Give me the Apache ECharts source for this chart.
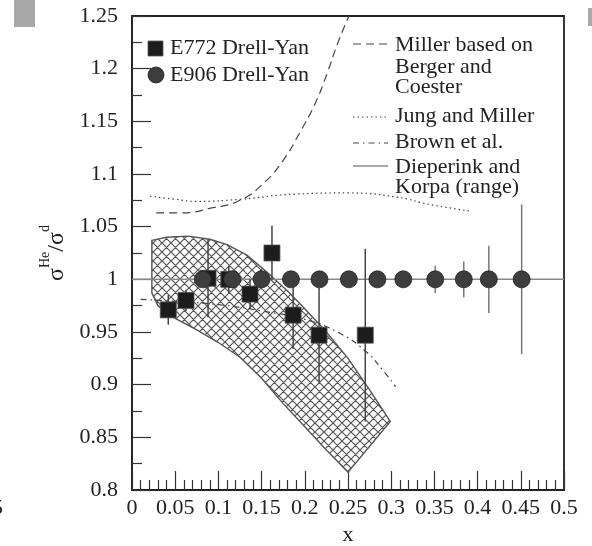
<!DOCTYPE html>
<html>
<head>
<meta charset="utf-8">
<script src="https://cdn.jsdelivr.net/npm/echarts@6/dist/echarts.min.js"></script>
<style>
	html, body { margin: 0; padding: 0; background: #fff; }
	#chart { width: 592px; height: 546px; }
</style>
</head>
<body>
<div id="chart"></div>
<script>
// E772 Drell-Yan (squares)
const e772X = [0.042, 0.0625, 0.088, 0.112, 0.1366, 0.162, 0.1865, 0.2165, 0.27];
const e772Y = [0.971, 0.980, 1.001, 1.000, 0.986, 1.025, 0.966, 0.947, 0.947];
const e772Err = [0.014, 0.010, 0.037, 0.013, 0.014, 0.026, 0.032, 0.045, 0.082];

// E906 Drell-Yan (circles)
const e906X = [0.082, 0.116, 0.150, 0.184, 0.217, 0.251, 0.284, 0.314, 0.351, 0.384, 0.413, 0.451];
const e906Y = [1, 1, 1, 1, 1, 1, 1, 1, 1, 1, 1, 1];
const e906Err = [0.006, 0.006, 0.005, 0.005, 0.005, 0.005, 0.006, 0.006, 0.013, 0.017, 0.032, 0.071];

// Miller based on Berger and Coester
const millerX = [0.028, 0.055, 0.094, 0.125, 0.152, 0.175, 0.194, 0.212, 0.226, 0.238, 0.251];
const millerY = [1.063, 1.063, 1.068, 1.075, 1.091, 1.113, 1.139, 1.167, 1.196, 1.224, 1.25];

// Jung and Miller
const jungX = [0.021, 0.05, 0.075, 0.125, 0.19, 0.25, 0.307, 0.345, 0.39];
const jungY = [1.079, 1.076, 1.074, 1.076, 1.081, 1.082, 1.078, 1.071, 1.065];

// Brown et al.
const brownX = [0.01, 0.05, 0.1, 0.15, 0.2, 0.24, 0.27, 0.29, 0.305];
const brownY = [0.981, 0.979, 0.976, 0.970, 0.962, 0.949, 0.932, 0.914, 0.898];

// Dieperink and Korpa (range)
const bandUpX = [0.023, 0.04, 0.065, 0.09, 0.11, 0.133, 0.156, 0.18, 0.2, 0.225, 0.25, 0.275, 0.299];
const bandUpY = [1.037, 1.040, 1.041, 1.038, 1.033, 1.023, 1.007, 0.989, 0.972, 0.950, 0.925, 0.895, 0.865];
const bandLoX = [0.023, 0.03, 0.05, 0.075, 0.1, 0.125, 0.15, 0.175, 0.2, 0.225, 0.25];
const bandLoY = [0.987, 0.975, 0.963, 0.952, 0.94, 0.926, 0.906, 0.882, 0.860, 0.838, 0.817];

// unity line
const unityX = [0, 0.5];
const unityY = [1, 1];

const FONT = "'Liberation Serif', 'DejaVu Serif', serif";

// cross hatch tile
const hatch = document.createElement("canvas");
hatch.width = 9;
hatch.height = 9;
const hctx = hatch.getContext("2d");
hctx.strokeStyle = "#555";
hctx.lineWidth = 1.2;
hctx.beginPath();
for (let k = -9; k <= 9; k += 9) {
	hctx.moveTo(-2, -2 + k);
	hctx.lineTo(11, 11 + k);
	hctx.moveTo(11, -2 + k);
	hctx.lineTo(-2, 11 + k);
}
hctx.stroke();

const zip = (xs, ys) => xs.map((x, i) => [x, ys[i]]);

function errorBars(xs, ys, errs, color) {
	return {
		type: "custom",
		data: xs.map((x, i) => [x, ys[i], errs[i]]),
		encode: { x: 0, y: 1 },
		z: 4,
		silent: true,
		renderItem: (params, api) => {
			const top = api.coord([api.value(0), api.value(1) + api.value(2)]);
			const bot = api.coord([api.value(0), api.value(1) - api.value(2)]);
			return {
				type: "line",
				shape: { x1: top[0], y1: top[1], x2: bot[0], y2: bot[1] },
				style: { stroke: color, lineWidth: 1.5 },
			};
		},
	};
}

function curve(xs, ys, dash) {
	return {
		type: "line",
		data: zip(xs, ys),
		smooth: true,
		showSymbol: false,
		silent: true,
		z: 3,
		lineStyle: { color: "#444", width: 1.2, type: dash },
	};
}

const legendLine = (y, dash, color) => ({
	type: "line",
	shape: { x1: 353, y1: y, x2: 388, y2: y },
	style: { stroke: color || "#444", lineWidth: 1.2, lineDash: dash },
});
const legendText = (x, y, text) => ({
	type: "text",
	x: x,
	y: y,
	style: { text: text, font: "22px " + FONT, fill: "#222", verticalAlign: "middle" },
});

const option = {
	backgroundColor: "#fff",
	animation: false,
	grid: {
		left: 132,
		right: 28,
		top: 16,
		bottom: 56,
		outerBoundsMode: "none",
		show: true,
		borderColor: "#222",
		borderWidth: 1.8,
	},
	xAxis: {
		type: "value",
		min: 0,
		max: 0.5,
		interval: 0.05,
		name: "x",
		nameLocation: "middle",
		nameGap: 32,
		nameTextStyle: { fontFamily: FONT, fontSize: 22, color: "#222" },
		axisLine: { lineStyle: { color: "#222", width: 1.5 } },
		axisTick: { inside: true, length: 19, lineStyle: { color: "#333", width: 1.2 } },
		minorTick: { show: true, splitNumber: 5, length: 10, lineStyle: { color: "#333", width: 1.2 } },
		splitLine: { show: false },
		axisLabel: { fontFamily: FONT, fontSize: 22, color: "#222", margin: 7 },
	},
	yAxis: {
		type: "value",
		min: 0.8,
		max: 1.25,
		interval: 0.05,
		name: "{s|σ}{u|He}{s|/σ}{u|d}",
		nameLocation: "middle",
		nameRotate: 90,
		nameGap: 57,
		nameTextStyle: {
			fontFamily: FONT,
			color: "#222",
			rich: {
				s: { fontFamily: FONT, fontSize: 24, color: "#222", lineHeight: 30, verticalAlign: "bottom" },
				u: { fontFamily: FONT, fontSize: 14, color: "#222", lineHeight: 30, verticalAlign: "top" },
			},
		},
		axisLine: { lineStyle: { color: "#222", width: 1.5 } },
		axisTick: { inside: true, length: 19, lineStyle: { color: "#333", width: 1.2 } },
		minorTick: { show: true, splitNumber: 2, length: 10, lineStyle: { color: "#333", width: 1.2 } },
		splitLine: { show: false },
		axisLabel: { fontFamily: FONT, fontSize: 22, color: "#222", margin: 14 },
	},
	series: [
		{
			type: "custom",
			data: [0],
			z: 1,
			silent: true,
			renderItem: (params, api) => {
				const pts = zip(bandUpX, bandUpY)
					.concat(zip(bandLoX, bandLoY).reverse())
					.map(p => api.coord(p));
				return {
					type: "polygon",
					shape: { points: pts },
					style: { fill: { image: hatch, repeat: "repeat" }, stroke: "#555", lineWidth: 1.4 },
				};
			},
		},
		{
			type: "line",
			data: zip(unityX, unityY),
			showSymbol: false,
			silent: true,
			z: 2,
			lineStyle: { color: "#888", width: 1.5 },
		},
		curve(millerX, millerY, [8, 5]),
		curve(jungX, jungY, [1.5, 3]),
		curve(brownX, brownY, [6, 4, 1.5, 4]),
		errorBars(e772X, e772Y, e772Err, "#444"),
		errorBars(e906X, e906Y, e906Err, "#777"),
		{
			type: "scatter",
			data: zip(e772X, e772Y),
			symbol: "rect",
			symbolSize: 16,
			z: 5,
			itemStyle: { color: "#1c1c1c", borderColor: "#555", borderWidth: 0.8, opacity: 1 },
		},
		{
			type: "scatter",
			data: zip(e906X, e906Y),
			symbol: "circle",
			symbolSize: 17,
			z: 6,
			itemStyle: { color: "#3d3d3d", borderColor: "#222", borderWidth: 0.8, opacity: 1 },
		},
	],
	graphic: [
		{ type: "rect", shape: { x: 14, y: 0, width: 21, height: 27 }, style: { fill: "#a8a8a8" } },
		{ type: "rect", shape: { x: 588, y: 8, width: 4, height: 18 }, style: { fill: "#aaa" } },
		{ type: "text", x: -8, y: 508, style: { text: "5", font: "22px " + FONT, fill: "#222", verticalAlign: "middle" } },
		{ type: "rect", shape: { x: 148, y: 41, width: 15, height: 15 }, style: { fill: "#1c1c1c", stroke: "#555", lineWidth: 0.8 } },
		legendText(170, 48, "E772 Drell-Yan"),
		{ type: "circle", shape: { cx: 156, cy: 75, r: 8 }, style: { fill: "#3d3d3d", stroke: "#222", lineWidth: 0.8 } },
		legendText(170, 75, "E906 Drell-Yan"),
		legendLine(44, [8, 5]),
		legendText(395, 45, "Miller based on"),
		legendText(395, 67, "Berger and"),
		legendText(395, 87, "Coester"),
		legendLine(117, [1.5, 3]),
		legendText(395, 116, "Jung and Miller"),
		legendLine(143, [6, 4, 1.5, 4]),
		legendText(395, 142, "Brown et al."),
		legendLine(166, null, "#555"),
		legendText(395, 167, "Dieperink and"),
		legendText(395, 187, "Korpa (range)"),
	],
};

const myEcharts = echarts.init(document.getElementById("chart"));
myEcharts.setOption(option);
</script>
</body>
</html>
